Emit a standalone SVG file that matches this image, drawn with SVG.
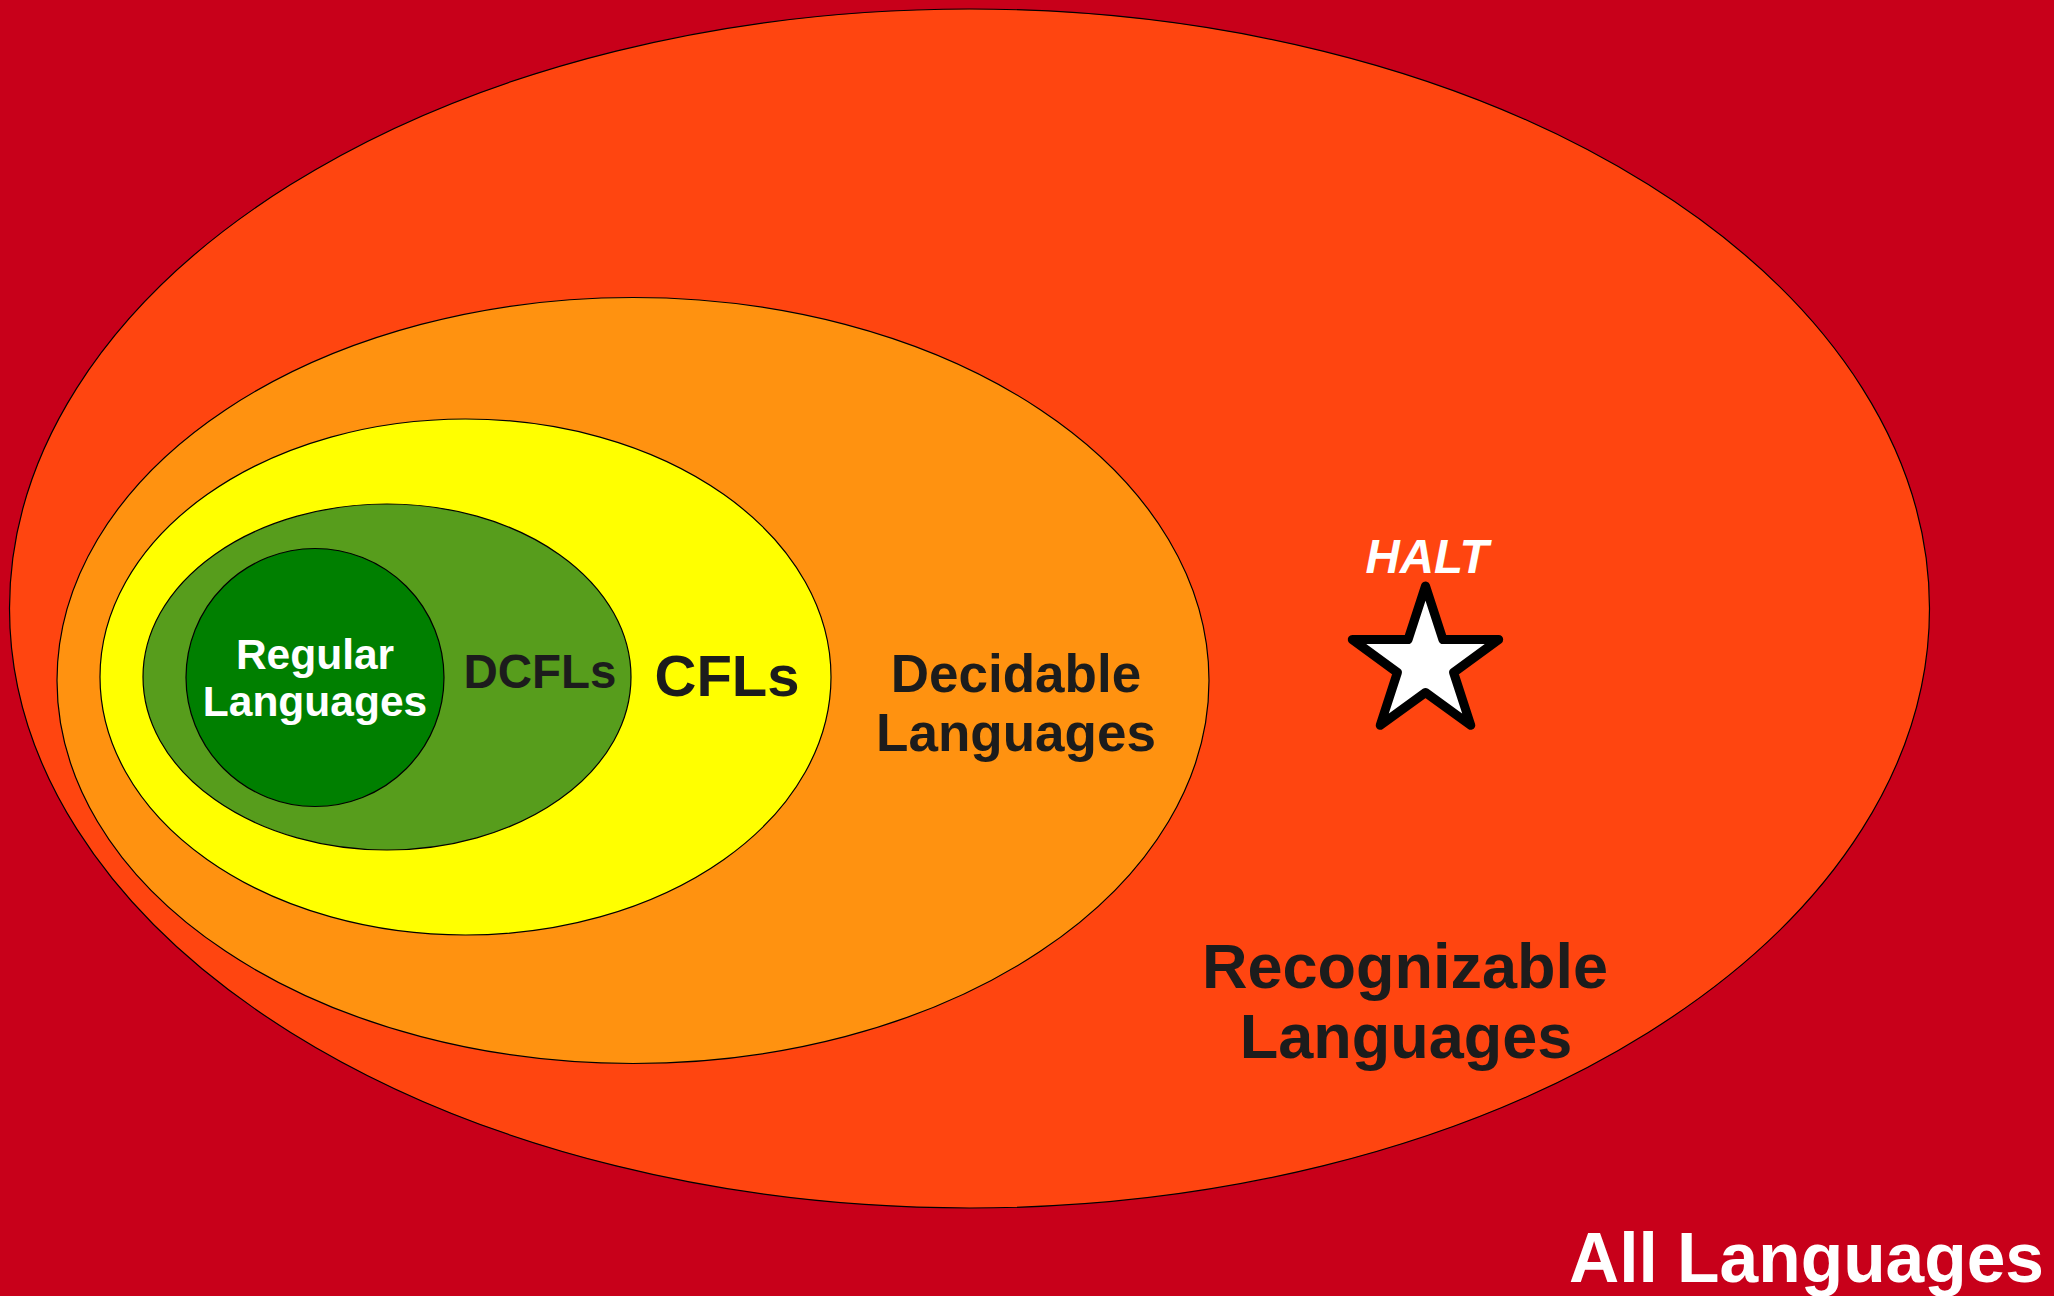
<svg xmlns="http://www.w3.org/2000/svg" width="2054" height="1296" viewBox="0 0 2054 1296">
  <style>
    .set { stroke: #000; stroke-width: 1.2; }
    .lbl { font-family: "Liberation Sans", Arial, sans-serif; font-weight: bold; text-anchor: middle; fill: #1c1c1c; }
    .light { fill: #ffffff; }
  </style>

  <!-- universe: all languages -->
  <g id="all-languages">
    <rect x="0" y="0" width="2054" height="1296" fill="#c8001a"/>
    <text class="lbl light" x="2044" y="1282" font-size="69.5" style="text-anchor:end">All Languages</text>
  </g>

  <!-- Turing-recognizable languages -->
  <g id="recognizable">
    <ellipse class="set" cx="969.5" cy="608.5" rx="960" ry="599.5" fill="#ff4510"/>
    <text class="lbl" x="1405" y="988" font-size="63">Recognizable</text>
    <text class="lbl" x="1406" y="1058" font-size="63">Languages</text>
  </g>

  <!-- decidable languages -->
  <g id="decidable">
    <ellipse class="set" cx="633" cy="680.5" rx="576" ry="383" fill="#ff9210"/>
    <text class="lbl" x="1016" y="692" font-size="53">Decidable</text>
    <text class="lbl" x="1016" y="751" font-size="53">Languages</text>
  </g>

  <!-- context-free languages -->
  <g id="cfl">
    <ellipse class="set" cx="465.5" cy="677" rx="365.5" ry="258" fill="#ffff00"/>
    <text class="lbl" x="727" y="696" font-size="58">CFLs</text>
  </g>

  <!-- deterministic context-free languages -->
  <g id="dcfl">
    <ellipse class="set" cx="387" cy="677" rx="244" ry="173" fill="#579d1c"/>
    <text class="lbl" x="540" y="688" font-size="47.5">DCFLs</text>
  </g>

  <!-- regular languages -->
  <g id="regular">
    <circle class="set" cx="315" cy="677.5" r="129" fill="#007f00"/>
    <text class="lbl light" x="315" y="669" font-size="42.5">Regular</text>
    <text class="lbl light" x="315" y="716" font-size="42.5">Languages</text>
  </g>

  <!-- the halting problem: recognizable but not decidable -->
  <g id="halt">
    <text class="lbl light" x="1427" y="573" font-size="47.5" font-style="italic">HALT</text>
    <polygon points="1425.5,586 1442.9,639.5 1498.7,639.5 1453.6,672.5 1470.8,725.3 1425.5,692.5 1380.2,725.3 1397.4,672.5 1352.3,639.5 1408.1,639.5"
             fill="#ffffff" stroke="#000" stroke-width="9" stroke-linejoin="round"/>
  </g>
</svg>
